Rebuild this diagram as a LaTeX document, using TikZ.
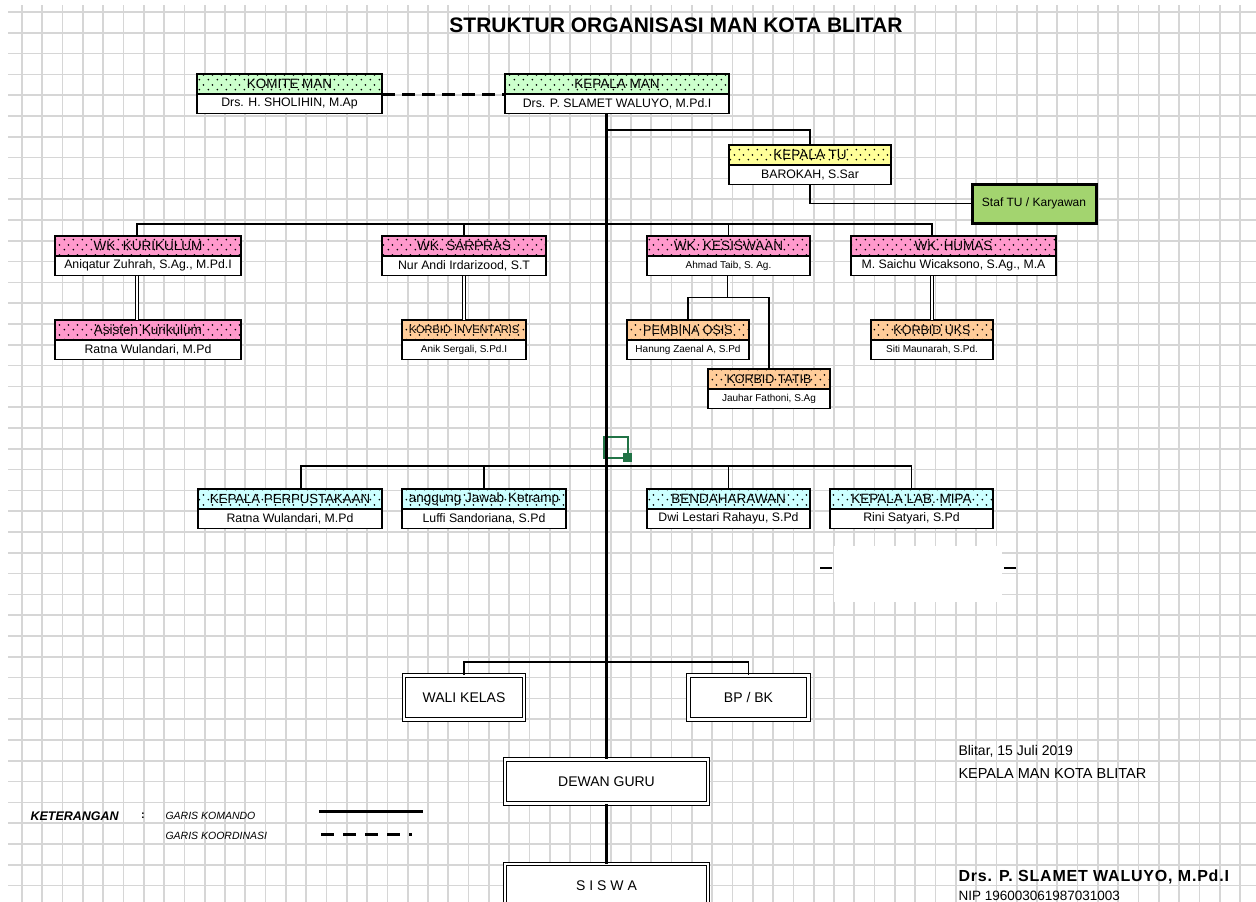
\documentclass[tikz,border=0pt]{standalone}
\usepackage{fontspec}
\setmainfont{Liberation Sans}
\usetikzlibrary{positioning,patterns}

\definecolor{gridgray}{HTML}{D6D6D6}
\definecolor{hdrgreen}{HTML}{CCFFCC}
\definecolor{hdryellow}{HTML}{FFFF99}
\definecolor{hdrpink}{HTML}{FF99CC}
\definecolor{hdrorange}{HTML}{FFCC99}
\definecolor{hdrcyan}{HTML}{CCFFFF}
\definecolor{stafgreen}{HTML}{A3D46F}
\definecolor{selgreen}{HTML}{217346}

\pgfdeclarepatternformonly{hdrdots}{\pgfqpoint{0pt}{0pt}}{\pgfqpoint{9pt}{10pt}}{\pgfqpoint{9pt}{10pt}}{%
  \pgfpathcircle{\pgfqpoint{1.5pt}{2.5pt}}{1pt}\pgfusepath{fill}
  \pgfpathcircle{\pgfqpoint{6pt}{7.5pt}}{1pt}\pgfusepath{fill}}

\newcommand{\hdrfont}{\fontsize{13.5}{13.5}\selectfont}
\newcommand{\nmfont}{\fontsize{12.3}{12.5}\selectfont}
\newcommand{\nmsmall}{\fontsize{10}{10}\selectfont}

\tikzset{
  gridline/.style={gridgray, line width=1.7pt},
  hdr/.style={draw, line width=1.2pt, outer sep=0pt, minimum width=#1, minimum height=20,
    inner sep=0pt, font=\hdrfont, postaction={pattern=hdrdots}},
  nm/.style={draw, line width=1.2pt, outer sep=0pt, fill=white, minimum width=#1,
    minimum height=19.5, inner sep=0pt, font=\nmfont},
  dblbox/.style={draw, line width=1pt, double, double distance=2.6pt, fill=white,
    minimum width=#1, minimum height=44, font=\fontsize{14}{14}\selectfont},
  cmd/.style={line width=1.3pt},
  dbl/.style={line width=0.9pt, double, double distance=2pt},
  trunk/.style={line width=3pt},
}

\begin{document}
\begin{tikzpicture}[x=1pt,y=-1pt]
\useasboundingbox (0,0) rectangle (1256,902);
\clip (0,0) rectangle (1256,902);

% grid of the sheet
\foreach \i in {0,...,60}
  \draw[gridline] ({22+20.3*\i},5) -- ({22+20.3*\i},902);
\foreach \j in {0,...,43}
  \draw[gridline] (8,{12+20.8*\j}) -- (1256,{12+20.8*\j});
\fill[white] (834,546) rectangle (1002,602);
\draw[line width=1.3pt] (820,568) -- (832,568);
\draw[line width=1.3pt] (1004,568) -- (1016,568);

% selection marker
\draw[selgreen, line width=2pt] (604,437) rectangle (628,458);
\fill[selgreen] (623,453) rectangle (632,462);

\node[font=\bfseries\fontsize{21}{21}\selectfont] (judul) at (676,25) {STRUKTUR ORGANISASI MAN KOTA BLITAR};

% pimpinan
\node[hdr=185, fill=hdrgreen] (komite) at (289.5,84) {KOMITE MAN};
\node[nm=185, below=0pt of komite] (komiten) {Drs. H. SHOLIHIN, M.Ap};
\node[hdr=224, fill=hdrgreen] (kepala) at (617,84) {KEPALA MAN};
\node[nm=224, below=0pt of kepala] (kepalan) {Drs. P. SLAMET WALUYO, M.Pd.I};

\node[hdr=162, fill=hdryellow] (tu) at (810,155) {KEPALA TU};
\node[nm=162, below=0pt of tu] (tun) {BAROKAH, S.Sar};
\node[draw, line width=3pt, fill=stafgreen, minimum width=124, minimum height=39,
  inner sep=0pt, font=\fontsize{12}{12}\selectfont] (staf) at (1034,203.5) {Staf TU / Karyawan};

% wakil kepala
\node[hdr=186, fill=hdrpink] (wkkur) at (148,246) {WK. KURIKULUM};
\node[nm=186, below=0pt of wkkur] (wkkurn) {Aniqatur Zuhrah, S.Ag., M.Pd.I};
\node[hdr=164, fill=hdrpink] (wksar) at (464,246) {WK. SARPRAS};
\node[nm=164, below=0pt of wksar] (wksarn) {Nur Andi Irdarizood, S.T};
\node[hdr=163, fill=hdrpink] (wksis) at (728.5,246) {WK. KESISWAAN};
\node[nm=163, below=0pt of wksis, font=\nmsmall] (wksisn) {Ahmad Taib, S. Ag.};
\node[hdr=205, fill=hdrpink] (wkhum) at (953.5,246) {WK. HUMAS};
\node[nm=205, below=0pt of wkhum] (wkhumn) {M. Saichu Wicaksono, S.Ag., M.A};

% koordinator
\node[hdr=186, fill=hdrpink] (asis) at (148,330) {Asisten Kurikulum};
\node[nm=186, below=0pt of asis] (asisn) {Ratna Wulandari, M.Pd};
\node[hdr=124, fill=hdrorange, font=\fontsize{11}{11}\selectfont] (inv) at (464,330) {KORBID INVENTARIS};
\node[nm=124, below=0pt of inv, font=\nmsmall] (invn) {Anik Sergali, S.Pd.I};
\node[hdr=122, fill=hdrorange, font=\fontsize{12.5}{12.5}\selectfont] (osis) at (688,330) {PEMBINA OSIS};
\node[nm=122, below=0pt of osis, font=\nmsmall] (osisn) {Hanung Zaenal A, S.Pd};
\node[hdr=122, fill=hdrorange, font=\fontsize{12.5}{12.5}\selectfont] (tatib) at (769,379) {KORBID TATIB};
\node[nm=122, below=0pt of tatib, font=\nmsmall] (tatibn) {Jauhar Fathoni, S.Ag};
\node[hdr=122, fill=hdrorange, font=\fontsize{12.5}{12.5}\selectfont] (uks) at (932,330) {KORBID UKS};
\node[nm=122, below=0pt of uks, font=\nmsmall] (uksn) {Siti Maunarah, S.Pd.};

% unit penunjang
\node[hdr=184, fill=hdrcyan, font=\fontsize{13.2}{13.2}\selectfont] (perpus) at (290,499) {KEPALA PERPUSTAKAAN};
\node[nm=184, below=0pt of perpus] (perpusn) {Ratna Wulandari, M.Pd};
\node[hdr=164, fill=hdrcyan] (ketr) at (484,499) {anggung Jawab Ketramp};
\node[nm=164, below=0pt of ketr] (ketrn) {Luffi Sandoriana, S.Pd};
\node[hdr=163, fill=hdrcyan] (bend) at (728.5,499) {BENDAHARAWAN};
\node[nm=163, below=0pt of bend] (bendn) {Dwi Lestari Rahayu, S.Pd};
\node[hdr=163, fill=hdrcyan] (lab) at (911.5,499) {KEPALA LAB. MIPA};
\node[nm=163, below=0pt of lab] (labn) {Rini Satyari, S.Pd};

% guru dan siswa
\node[dblbox=120] (wali) at (464,697.5) {WALI KELAS};
\node[dblbox=120] (bpbk) at (748.5,697.5) {BP / BK};
\node[dblbox=203] (dewan) at (606.5,781.5) {DEWAN GURU};
\node[dblbox=203, minimum height=60] (siswa) at (606.5,894) {\raisebox{4pt}[0pt][0pt]{S I S W A}};

% garis komando
\draw[trunk] (dewan.north |- kepalan.south) -- (dewan.north);
\draw[trunk] (dewan.south) -- (siswa.north);
\draw[line width=3pt, dash pattern=on 13pt off 7pt] (komite.south east) -- (kepala.south west);
\draw[cmd] (tu.north) -- ++(0,-15) coordinate (tuj) -- (tuj -| dewan.north);
\draw[cmd] (tun.south) |- (staf.west);

\draw[cmd] ([xshift=-11pt]wkkur.north) -- ++(0,-12) -| (uks.north |- wkhum.north);
\draw[cmd] (wksar.north) -- ++(0,-12);
\draw[cmd] (wksis.north) -- ++(0,-12);
\draw[dbl] ([xshift=-11pt]wkkurn.south) -- ([xshift=-11pt]asis.north);
\draw[dbl] (wksarn.south) -- (inv.north);
\draw[dbl] (wkhumn.south -| uks.north) -- (uks.north);
\draw[dbl] (wksisn.south) -- ++(0,22) coordinate (sisj);
\draw[cmd] (osis.north) |- (sisj) -| (tatib.north);

\draw[cmd] ([xshift=11pt]perpus.north) -- ++(0,-23) -| (lab.north);
\draw[cmd] (ketr.north) -- ++(0,-23);
\draw[cmd] (bend.north) -- ++(0,-23);

\draw[cmd] (wali.north) -- ++(0,-13) -| (bpbk.north);

% keterangan
\node[anchor=west, font=\bfseries\itshape\fontsize{12.5}{12.5}\selectfont] (ket) at (27,816) {KETERANGAN};
\node[font=\bfseries\fontsize{11}{11}\selectfont] (titik) at (143,816) {:};
\node[anchor=west, font=\itshape\fontsize{10.5}{10.5}\selectfont] (komando) at (162,816) {GARIS KOMANDO};
\node[anchor=west, font=\itshape\fontsize{10.5}{10.5}\selectfont] (koord) at (162,836) {GARIS KOORDINASI};
\draw[line width=3pt] (319,811) -- (423,811);
\draw[line width=3pt, dash pattern=on 13pt off 9pt] (321,834) -- (412,834);

% tanda tangan
\node[anchor=west, font=\fontsize{14}{14}\selectfont] (tgl) at (955,751) {Blitar, 15 Juli 2019};
\node[anchor=west, font=\fontsize{14.5}{14.5}\selectfont] (jabatan) at (955,774) {KEPALA MAN KOTA BLITAR};
\node[anchor=west, font=\bfseries\fontsize{16}{16}\selectfont\addfontfeatures{LetterSpace=5}] (ttd) at (955,877) {Drs. P. SLAMET WALUYO, M.Pd.I};
\node[anchor=west, font=\fontsize{13.5}{13.5}\selectfont] (nip) at (955,896) {NIP 196003061987031003};
\end{tikzpicture}
\end{document}
